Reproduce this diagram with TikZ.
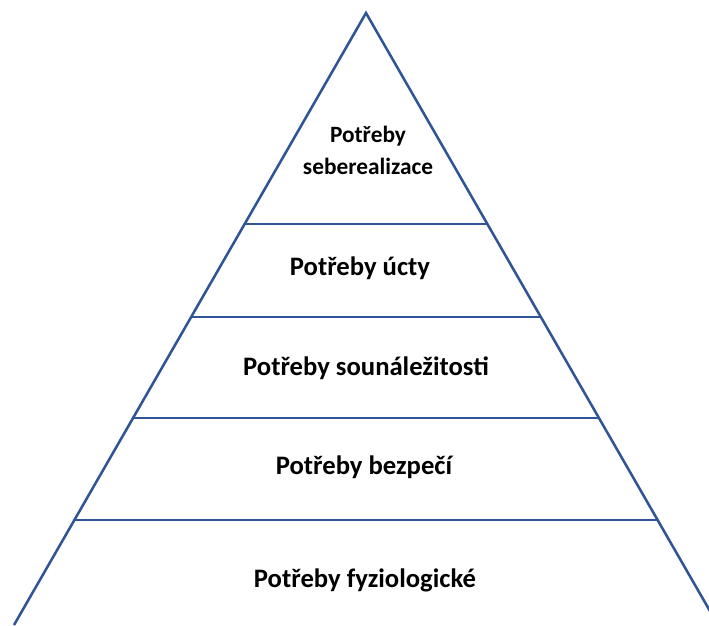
\documentclass[tikz,border=0pt]{standalone}
\usepackage{fontspec}
\setmainfont{Carlito}
\usetikzlibrary{calc}

\tikzset{
  edge/.style={draw=pyrblue,line width=1.9pt,line join=miter},
  level/.style={font=\bfseries\fontsize{20}{24}\selectfont,align=center,text=black},
  toplevel/.style={level,font=\bfseries\fontsize{17.5}{24}\selectfont}
}
\definecolor{pyrblue}{HTML}{2F5597}

\begin{document}
\begin{tikzpicture}[x=0.75pt,y=-0.75pt]
\useasboundingbox (0,0) rectangle (709,625);
\clip (0,0) rectangle (709,625);
\coordinate (apex) at (366,13);
\coordinate (bl) at (14,625);
\coordinate (br) at (718,625);
\draw[edge] (bl) -- (apex) -- (br);
\foreach \y in {224,317,418,520}
  \draw[edge] ($(apex)!{(\y-13)/612}!(bl)$) -- ($(apex)!{(\y-13)/612}!(br)$);

\node[toplevel] (self) at (368,150) {Potřeby\\seberealizace};
\node[level] (esteem) at (360,268) {Potřeby úcty};
\node[level] (love) at (366,368) {Potřeby sounáležitosti};
\node[level] (safety) at (364,467) {Potřeby bezpečí};
\node[level] (body) at (365,580) {Potřeby fyziologické};

\end{tikzpicture}
\end{document}
